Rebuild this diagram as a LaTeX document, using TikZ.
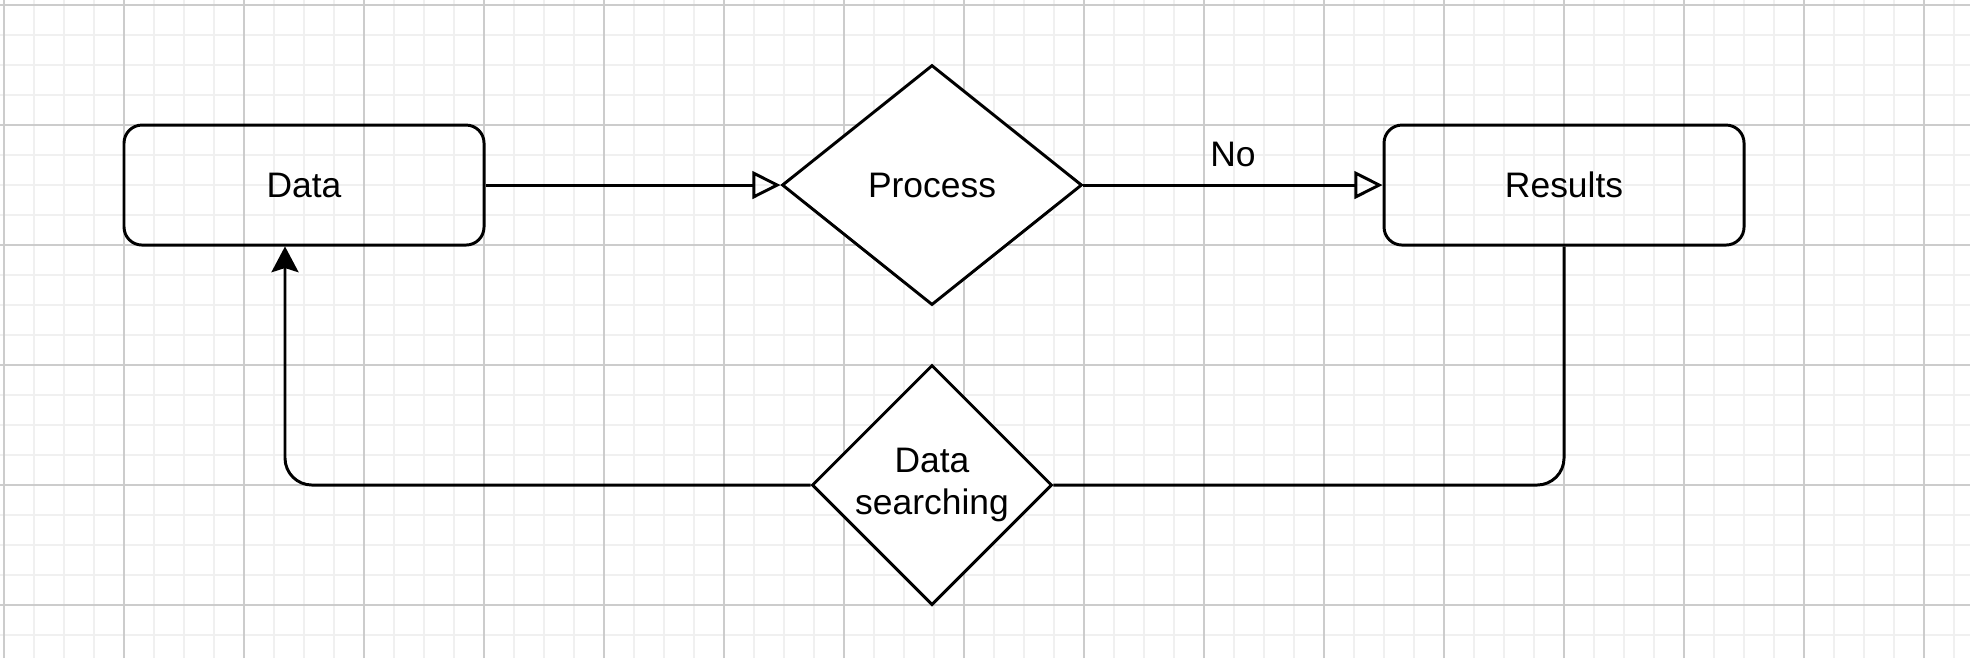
\documentclass[tikz,border=0pt]{standalone}
\usepackage{fontspec}
\setmainfont{Liberation Sans}
\usetikzlibrary{shapes.geometric,arrows.meta}

\begin{document}
\begin{tikzpicture}[
    gridminor/.style={line width=0.9pt, black!6},
    gridmajor/.style={line width=0.9pt, black!20},
    databox/.style={draw, line width=1.4pt, rounded corners=0.3cm, minimum width=6cm, minimum height=2cm, font=\fontsize{16.8}{19.7}\selectfont},
    choice/.style={draw, diamond, line width=1.4pt, inner sep=0pt, align=center, fill=white, font=\fontsize{16.8}{19.7}\selectfont},
    flow/.style={line width=1.4pt, -{Triangle[open, length=0.47cm, width=0.46cm]}},
    back/.style={line width=1.4pt, rounded corners=0.45cm, -{Stealth[length=0.43cm, width=0.45cm, inset=0.07cm]}},
  ]
  \useasboundingbox (0,0) rectangle (32.833,10.967);
  \fill[white] (0,0) rectangle (32.833,10.967);

  % Drawing the grid
  \begin{scope}
    \clip (0,0) rectangle (32.833,10.967);
    \foreach \i in {0,...,65}
      \draw[gridminor] ({0.0667+0.5*\i},0) -- ++(0,10.967);
    \foreach \k in {0,...,21}
      \draw[gridminor] (0,{10.883-0.5*\k}) -- ++(32.833,0);
    \foreach \i in {0,...,16}
      \draw[gridmajor] ({0.0667+2*\i},0) -- ++(0,10.967);
    \foreach \k in {0,...,5}
      \draw[gridmajor] (0,{10.883-2*\k}) -- ++(32.833,0);
  \end{scope}

  % Boxes and decisions
  \node[databox] (data) at (5.067,7.883) {Data};
  \node[choice, minimum width=5cm, minimum height=4cm] (proc) at (15.533,7.883) {Process};
  \node[databox] (res) at (26.067,7.883) {Results};
  \node[choice, minimum width=4cm, minimum height=4cm] (srch) at (15.533,2.883) {Data\\searching};
  \coordinate (dataIn) at (4.75,6.86);

  % Forward flow
  \draw[flow] (data) -- (proc);
  \draw[flow] (proc) -- node[yshift=0.51cm, font=\fontsize{16.8}{19.7}\selectfont] (no) {No} (res);

  % Feedback loop
  \draw[line width=1.4pt, rounded corners=0.45cm] (res.south) |- (srch.east);
  \draw[back] (srch.west) -| (dataIn);
\end{tikzpicture}
\end{document}
